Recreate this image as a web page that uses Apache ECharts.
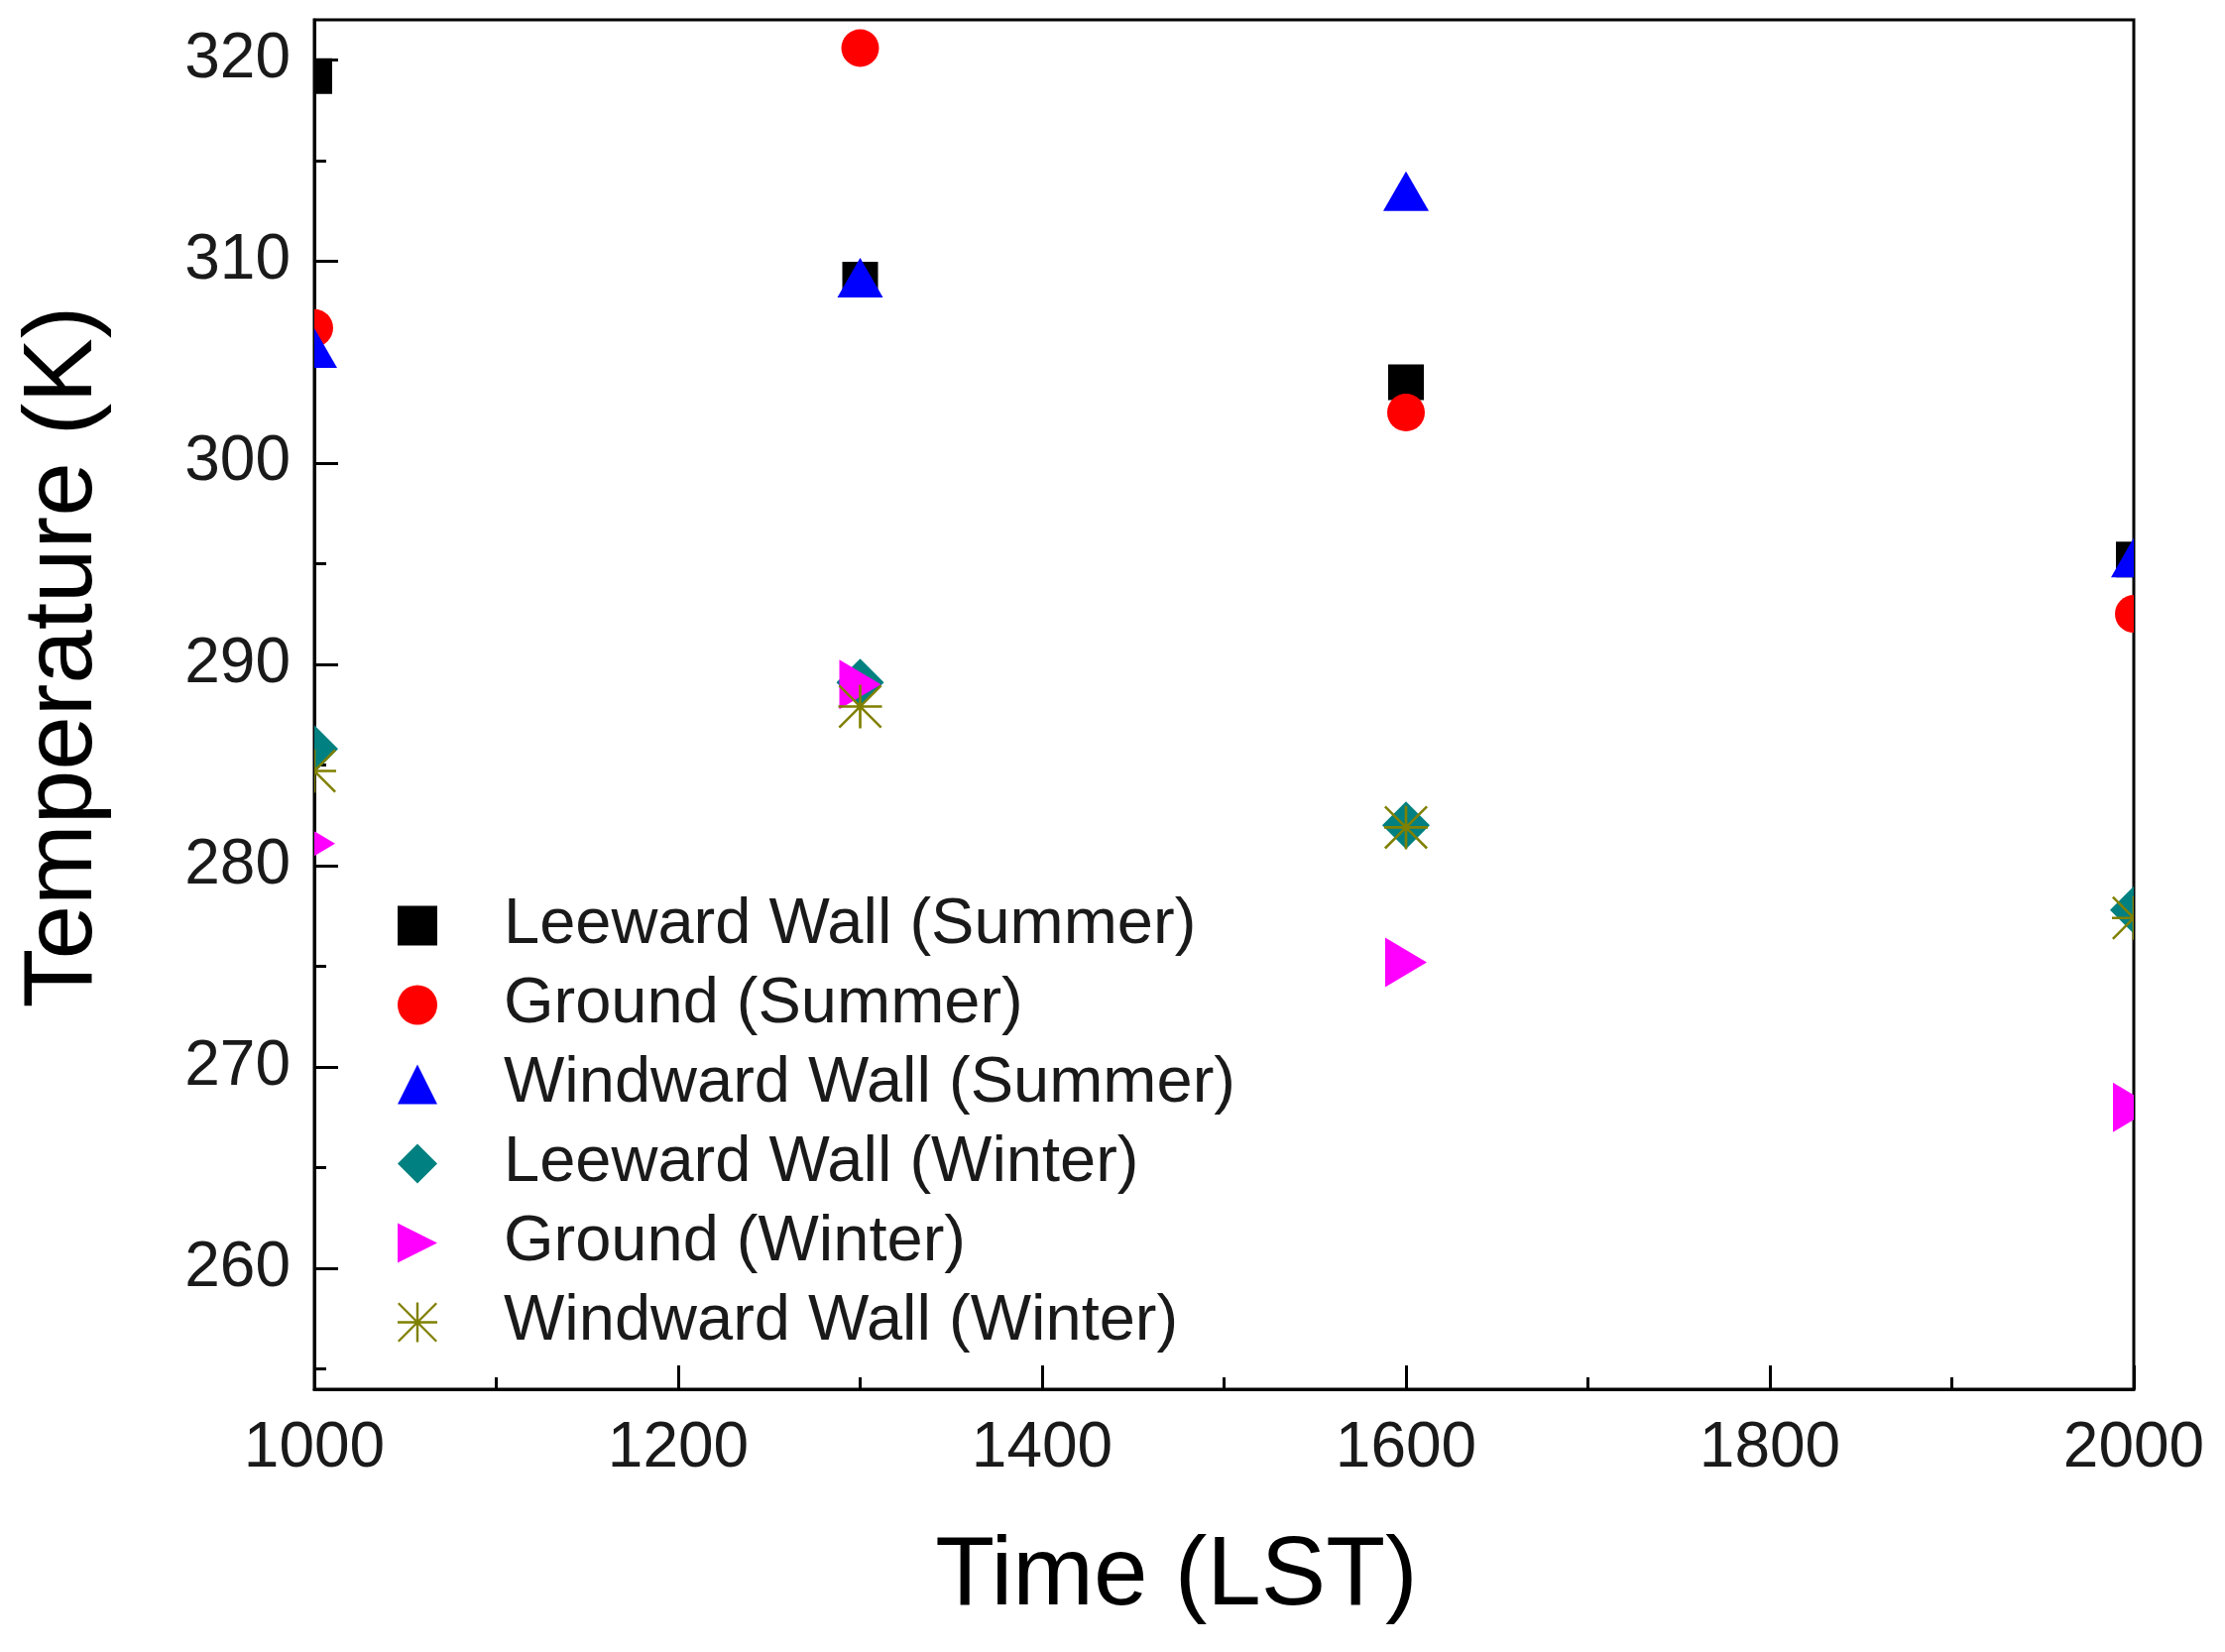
<!DOCTYPE html>
<html>
<head>
<meta charset="utf-8">
<title>Surface temperature</title>
<script src="https://cdn.jsdelivr.net/npm/echarts@6/dist/echarts.min.js"></script>
<style>
  html, body { margin: 0; padding: 0; background: #fff; }
  #main { width: 2244px; height: 1666px; }
</style>
</head>
<body>
<div id="main"></div>
<script>
// 数据：横轴时刻 (LST) 和各表面温度 (K)
const times = [1000, 1300, 1600, 2000]
const leewardSummer = [319.2, 309.1, 304.0, 295.2]
const groundSummer = [306.7, 320.6, 302.5, 292.5]
const windwardSummer = [305.7, 309.2, 313.5, 295.3]
const leewardWinter = [285.8, 289.1, 282.0, 277.8]
const groundWinter = [281.1, 289.0, 275.2, 268.0]
const windwardWinter = [284.7, 287.9, 281.9, 277.4]

// 纵轴刻度
const yMajorTicks = [260, 270, 280, 290, 300, 310, 320]
const yMinorTicks = [255, 265, 275, 285, 295, 305, 315]

// 符号路径（图例和散点共用）
const squarePath = 'M0 0 L10 0 L10 10 L0 10 Z'
const trianglePath = 'M5 0 L10 10 L0 10 Z'
const diamondPath = 'M5 0 L10 5 L5 10 L0 5 Z'
const rightTrianglePath = 'M0 0 L10 5 L0 10 Z'
const asteriskPath = 'M47 0 L53 0 L53 100 L47 100 Z M0 47 L100 47 L100 53 L0 53 Z ' +
  'M4 0 L100 96 L96 100 L0 4 Z M96 0 L100 4 L4 100 L0 96 Z'

const font = 'Liberation Sans, Arial, sans-serif'
const textColor = '#1a1a1a'

function pairs(values) {
  return times.map((t, i) => [t, values[i]])
}

const seriesDefs = [
  { name: 'Leeward Wall (Summer)', data: leewardSummer, path: squarePath, size: [36, 36], color: '#000000' },
  { name: 'Ground (Summer)', data: groundSummer, path: 'circle', size: [38, 38], color: '#ff0000' },
  { name: 'Windward Wall (Summer)', data: windwardSummer, path: trianglePath, size: [46, 40], color: '#0000ff' },
  { name: 'Leeward Wall (Winter)', data: leewardWinter, path: diamondPath, size: [48, 48], color: '#008080' },
  { name: 'Ground (Winter)', data: groundWinter, path: rightTrianglePath, size: [42, 50], color: '#ff00ff' },
  { name: 'Windward Wall (Winter)', data: windwardWinter, path: asteriskPath, size: [44, 44], color: '#808000' }
]

// 自定义系列画点，这样落在边框上的点会被裁掉一半
function makeRenderItem(def) {
  const w = def.size[0]
  const h = def.size[1]
  return function (params, api) {
    const p = api.coord([api.value(0), api.value(1)])
    const style = { fill: def.color }
    if (def.path === 'circle') {
      return { type: 'circle', shape: { cx: p[0], cy: p[1], r: w / 2 }, style: style }
    }
    return {
      type: 'path',
      shape: { pathData: def.path, x: p[0] - w / 2, y: p[1] - h / 2, width: w, height: h, layout: 'cover' },
      style: style
    }
  }
}

var myChart = echarts.init(document.getElementById('main'))

var option = {
  backgroundColor: '#ffffff',
  animation: false,
  grid: {
    left: 317,
    right: 92,
    top: 20,
    bottom: 265,
    show: true,
    borderColor: '#000',
    borderWidth: 3,
    outerBoundsMode: 'none'
  },
  legend: {
    orient: 'vertical',
    left: 401,
    top: 901,
    padding: 0,
    itemWidth: 164,
    itemHeight: 40,
    itemGap: 15,
    symbolKeepAspect: true,
    textStyle: { fontFamily: font, fontSize: 65, lineHeight: 60, color: textColor },
    data: seriesDefs.map(s => ({
      name: s.name,
      icon: s.path === 'circle' ? 'circle' : 'path://' + s.path,
      itemStyle: { color: s.color }
    }))
  },
  xAxis: {
    type: 'value',
    min: 1000,
    max: 2000,
    interval: 200,
    name: 'Time (LST)',
    nameLocation: 'middle',
    nameGap: 141,
    nameTextStyle: { fontFamily: font, fontSize: 98, color: '#000', padding: [0, 96, 0, 0] },
    axisLine: { show: true, lineStyle: { color: '#000', width: 3 } },
    axisTick: { show: true, inside: true, length: 24, lineStyle: { color: '#000', width: 3 } },
    minorTick: { show: true, splitNumber: 2, length: 12, lineStyle: { color: '#000', width: 3 } },
    axisLabel: { margin: 28, fontFamily: font, fontSize: 64, color: textColor, formatter: v => String(v) },
    splitLine: { show: false }
  },
  yAxis: [
    {
      type: 'value',
      min: 254,
      max: 322,
      name: 'Temperature (K)',
      nameLocation: 'middle',
      nameGap: 203,
      nameTextStyle: { fontFamily: font, fontSize: 98, color: '#000', padding: [0, 0, 0, 96] },
      axisLine: { show: true, lineStyle: { color: '#000', width: 3 } },
      axisTick: { show: true, inside: true, length: 24, customValues: yMajorTicks, lineStyle: { color: '#000', width: 3 } },
      axisLabel: { margin: 24, customValues: yMajorTicks, fontFamily: font, fontSize: 64, color: textColor },
      splitLine: { show: false }
    },
    {
      // 次刻度
      type: 'value',
      min: 254,
      max: 322,
      position: 'left',
      axisLine: { show: false },
      axisTick: { show: true, inside: true, length: 12, customValues: yMinorTicks, lineStyle: { color: '#000', width: 3 } },
      axisLabel: { show: false },
      splitLine: { show: false }
    }
  ],
  series: seriesDefs.map(s => ({
    name: s.name,
    type: 'custom',
    yAxisIndex: 0,
    clip: true,
    itemStyle: { color: s.color },
    encode: { x: 0, y: 1 },
    renderItem: makeRenderItem(s),
    data: pairs(s.data)
  }))
}

option && myChart.setOption(option)
</script>
</body>
</html>
